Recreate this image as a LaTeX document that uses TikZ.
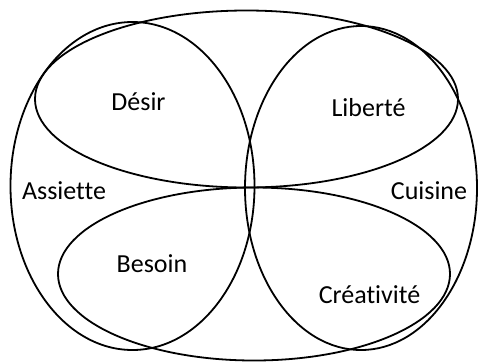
\documentclass[tikz,border=0pt]{standalone}
\usepackage{fontspec}
\setmainfont[Ligatures=NoCommon]{Carlito}
\begin{document}
\begin{tikzpicture}[x=1pt,y=-1pt,
  ring/.style={draw=black, line width=1.8pt},
  lbl/.style={font=\fontsize{26}{30}\selectfont, anchor=base, inner sep=0pt}]
\useasboundingbox (0,0) rectangle (478,362);
% horizontal ellipses
\draw[ring] (246.5,99) ellipse [x radius=211.5pt, y radius=88.5pt];
\draw[ring] (254,274) ellipse [x radius=196pt, y radius=86.5pt];
% vertical ellipses
\draw[ring] (132.5,186) ellipse [x radius=122pt, y radius=164pt];
\draw[ring] (361,188) ellipse [x radius=116pt, y radius=162pt];
% labels
\node[lbl] (desir) at (138.5,110) {Désir};
\node[lbl] (liberte) at (368.5,116) {Liberté};
\node[lbl] (assiette) at (64,199) {Assiette};
\node[lbl] (cuisine) at (429,199) {Cuisine};
\node[lbl] (besoin) at (152,272) {Besoin};
\node[lbl] (creativite) at (369.5,303) {Créativité};
\end{tikzpicture}
\end{document}
